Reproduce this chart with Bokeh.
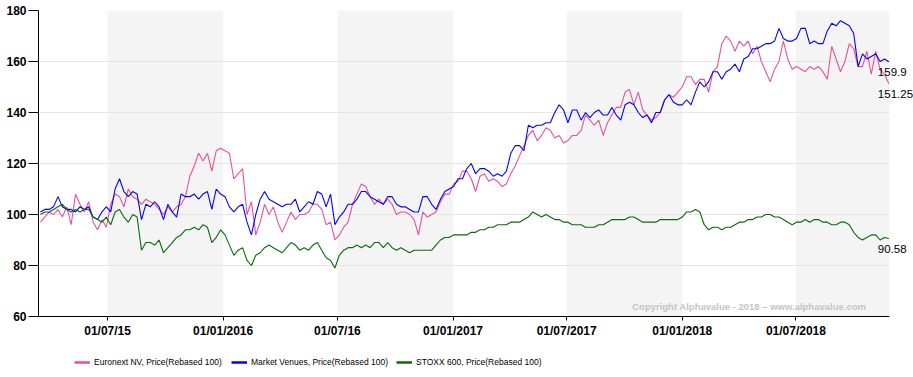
import pandas as pd
from bokeh.plotting import figure
from bokeh.layouts import column
from bokeh.models import (ColumnDataSource, Range1d, FixedTicker, Legend, LegendItem,
                          BoxAnnotation, Label)
from bokeh.embed import file_html
from bokeh.resources import INLINE

# ---------------- data ----------------
start_date = "2015-03-16"
n_weeks = 194

euronext = [97,99,101,100,102,99,103,96,108,104,101,105,97,94,98,95,104,108,107,103,
            110,107,106,104,106,105,104,102,100,103,101,103,104,107,115,119,124,121,124,117,
            125,126,125,124,114,116,118,100,105,92,97,104,100,103,97,93,97,101,98,100,
            100,101,104,104,102,96,97,90,92,95,97,104,108,112,111,107,104,106,104,106,
            104,100,101,101,100,98,92,101,99,100,101,105,108,108,112,113,117,117,114,109,
            115,116,113,114,113,111,112,116,119,123,127,131,133,129,131,134,133,130,131,128,
            129,131,131,133,139,137,135,137,131,136,139,142,142,148,149,143,148,141,139,137,
            138,140,145,147,146,148,150,154,154,151,153,153,148,156,158,167,170,168,164,168,
            166,168,163,166,160,156,152,157,160,168,161,157,158,157,156,158,157,158,156,153,
            166,161,156,160,167,165,158,158,164,155,164,157,155,151.25]

market_venues = [101,102,102,103,107,103,102,102,101,103,102,103,99,98,101,103,101,110,114,109,
                 107,109,108,98,104,103,105,103,98,104,101,99,108,107,107,108,106,108,109,102,
                 110,108,107,103,101,103,104,97,92,100,106,109,106,105,104,103,104,104,106,101,
                 103,105,104,109,108,103,108,96,99,101,104,104,106,109,109,107,106,105,104,107,
                 107,104,103,103,102,101,101,107,107,104,102,106,109,110,111,114,114,118,120,116,
                 118,118,117,115,116,115,117,124,127,127,125,135,134,135,135,136,136,140,143,141,
                 136,141,141,137,140,138,140,141,139,139,142,139,137,143,144,143,140,138,139,136,
                 140,140,145,147,144,143,143,145,143,148,152,150,152,156,156,153,156,157,159,156,
                 161,162,165,165,166,167,167,168,173,169,168,168,169,173,173,167,168,167,167,172,
                 175,174,176,175,174,171,158,163,161,162,163,160,161,159.9]

stoxx600 = [100,101,101,102,103,104,102,101,102,101,102,102,99,98,97,99,96,101,102,99,
            97,100,99,86,89,89,88,90,85,87,89,91,92,94,94,95,94,96,95,89,
            91,94,92,88,84,86,87,82,80,84,85,87,88,87,86,85,87,89,88,86,
            87,86,88,89,86,83,82,79,84,86,87,87,88,87,88,87,89,89,87,89,
            87,86,87,86,85,86,86,86,86,86,88,90,91,91,92,92,92,92,93,93,
            94,94,95,95,96,96,96,97,97,97,98,99,101,100,99,100,99,98,98,97,
            97,96,96,96,95,95,95,96,96,97,98,98,98,98,99,99,98,97,97,97,
            97,98,98,98,98,98,99,101,101,102,101,96,94,95,95,94,95,95,96,97,
            97,98,98,99,99,100,100,99,99,98,97,96,97,97,98,97,98,98,97,97,
            96,96,97,97,96,93,91,90,91,92,92,90,91,90.58]

series_names = ["Euronext NV, Price(Rebased 100)",
                "Market Venues, Price(Rebased 100)",
                "STOXX 600, Price(Rebased 100)"]
series_colors = ["#e8509b", "#0000ff", "#0a6a0a"]

tick_dates = ["2015-07-01", "2016-01-01", "2016-07-01", "2017-01-01",
              "2017-07-01", "2018-01-01", "2018-07-01"]
tick_labels = ["01/07/15", "01/01/2016", "01/07/16", "01/01/2017",
               "01/07/2017", "01/01/2018", "01/07/2018"]
y_ticks = [60, 80, 100, 120, 140, 160, 180]
band_starts = ["2015-07-01", "2016-07-01", "2017-07-01", "2018-07-01"]
band_ends = ["2016-01-01", "2017-01-01", "2018-01-01", None]
copyright_text = "Copyright Alphavalue - 2018 \u2013 www.alphavalue.com"

# ---------------- build ----------------
def ms(d):
    return int(pd.Timestamp(d).value // 10**6)

dates = pd.date_range(start_date, periods=n_weeks, freq="7D")
xs = [int(t.value // 10**6) for t in dates]
DAY = 86400000

LEFT, PLOT_W, EXTRA_R = 38, 851, 24
x_start = xs[0] - 3 * DAY
x_data_end = xs[-1] + 1 * DAY
# frame runs to the window edge so the end-value labels are not clipped
x_frame_end = x_start + (x_data_end - x_start) * (PLOT_W + EXTRA_R) / PLOT_W

p = figure(width=913, height=340, output_backend="svg", toolbar_location=None,
           x_range=Range1d(x_start, x_frame_end), y_range=Range1d(60, 180),
           min_border_left=LEFT, min_border_right=0, min_border_top=10,
           min_border_bottom=24)
p.outline_line_color = None
p.background_fill_color = "white"
p.border_fill_color = "white"

# bands
for bs, be in zip(band_starts, band_ends):
    right = ms(be) if be is not None else x_data_end
    p.add_layout(BoxAnnotation(left=ms(bs), right=right, fill_color="#f4f4f4",
                               fill_alpha=1.0, line_color=None, level="image"))

# grid
p.xgrid.grid_line_color = None
p.ygrid.grid_line_color = "#e4e4e4"
p.ygrid.grid_line_width = 1
p.ygrid.ticker = FixedTicker(ticks=y_ticks)

# white mask beyond the data end (over the grid)
p.add_layout(BoxAnnotation(left=x_data_end, right=x_frame_end, fill_color="white",
                           fill_alpha=1.0, line_color=None, level="underlay"))

# axes
tick_ms = [ms(d) for d in tick_dates]
p.xaxis.ticker = FixedTicker(ticks=tick_ms)
p.xaxis.major_label_overrides = {t: l for t, l in zip(tick_ms, tick_labels)}
p.xaxis.bounds = (x_start, x_data_end)
p.yaxis.ticker = FixedTicker(ticks=y_ticks)
for ax in (p.xaxis[0], p.yaxis[0]):
    ax.axis_line_color = "black"
    ax.axis_line_width = 1
    ax.major_tick_line_color = "black"
    ax.minor_tick_line_color = None
    ax.major_tick_in = 0
    ax.major_label_text_font = "Liberation Sans"
    ax.major_label_text_font_style = "bold"
    ax.major_label_text_font_size = "12px"
    ax.major_label_text_color = "black"
p.yaxis.major_tick_out = 10
p.yaxis.major_label_standoff = 2
p.xaxis.major_tick_out = 4
p.xaxis.major_label_standoff = 3

# lines
all_series = [euronext, market_venues, stoxx600]
for name, vals, col in zip(series_names, all_series, series_colors):
    src = ColumnDataSource(dict(x=xs, y=vals))
    p.line("x", "y", source=src, line_color=col, line_width=1.1)

# end value labels
for vals in all_series:
    p.add_layout(Label(x=xs[-1], y=vals[-1], text=f"{vals[-1]:g}",
                       x_offset=-11, y_offset=-10,
                       text_font="Liberation Sans", text_font_size="11.5px",
                       text_color="black", text_align="left",
                       text_baseline="middle"))

# copyright
p.add_layout(Label(x=x_data_end - 37 * DAY, y=63.8, text=copyright_text,
                   text_font="Liberation Sans", text_font_style="bold",
                   text_font_size="9.5px", text_color="#c4c4c4",
                   text_align="right", text_baseline="middle"))

# ---------------- legend strip ----------------
lg = figure(width=913, height=37, output_backend="svg", toolbar_location=None,
            x_range=Range1d(0, 1), y_range=Range1d(0, 1),
            x_axis_location=None, y_axis_location=None,
            min_border_left=0, min_border_right=0, min_border_top=0,
            min_border_bottom=0)
lg.outline_line_color = None
lg.grid.visible = False
legend_x = [36, 193, 358]
for name, col, lx in zip(series_names, series_colors, legend_x):
    r = lg.line(x=[-1, -1], y=[-1, -1], line_color=col, line_width=2.5)
    legend = Legend(items=[LegendItem(label=name, renderers=[r])],
                    orientation="horizontal", location=(lx, 9),
                    label_text_font="Liberation Sans",
                    label_text_font_size="8.5px", label_text_color="black",
                    glyph_width=16, glyph_height=12, label_standoff=4,
                    border_line_color=None, background_fill_alpha=0.0,
                    padding=0, margin=0, label_height=12)
    lg.add_layout(legend, "center")

open("out.html", "w").write(file_html(column(p, lg, spacing=0), INLINE))
